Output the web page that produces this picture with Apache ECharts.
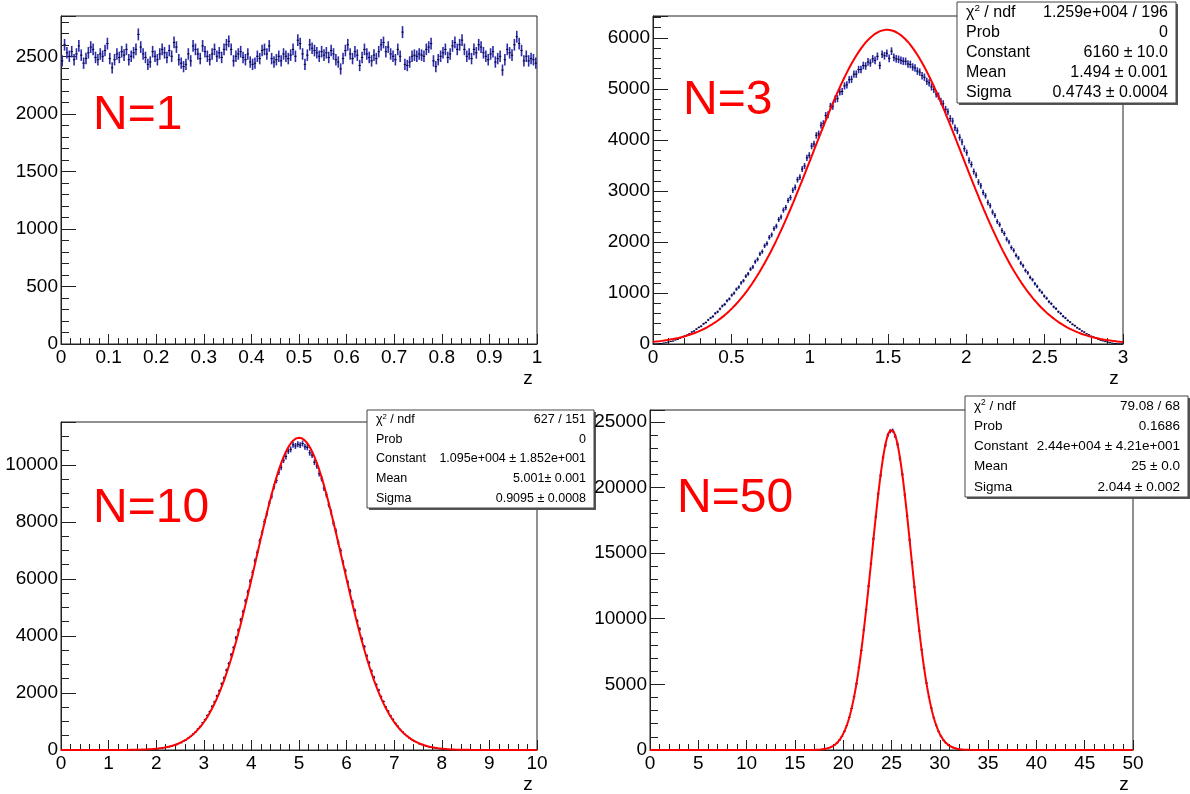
<!DOCTYPE html>
<html>
<head>
<meta charset="utf-8">
<script src="https://cdn.jsdelivr.net/npm/echarts@6/dist/echarts.min.js"></script>
<style>
  html, body { margin: 0; padding: 0; background: #fff; }
  #chart { width: 1190px; height: 794px; }
</style>
</head>
<body>
<div id="chart"></div>
<script>
// Histogram binning: [low edge, high edge, number of bins]
const rangeN1 = [0, 1, 200];
const rangeN3 = [0, 3, 200];
const rangeN10 = [0, 10, 200];
const rangeN50 = [0, 50, 200];

// Index of the first listed bin (bins outside the list are empty)
const firstBinN1 = 0;
const firstBinN3 = 0;
const firstBinN10 = 23;
const firstBinN50 = 64;

// Bin contents, sum of N uniform numbers
const countsN1 = [
  2460, 2600, 2530, 2500, 2540, 2470, 2520, 2590, 2510, 2440,
  2480, 2530, 2580, 2560, 2490, 2470, 2520, 2500, 2550, 2610,
  2480, 2400, 2470, 2520, 2490, 2540, 2510, 2560, 2470, 2500,
  2530, 2560, 2690, 2580, 2520, 2490, 2430, 2450, 2540, 2500,
  2470, 2520, 2560, 2530, 2490, 2550, 2500, 2620, 2580, 2470,
  2440, 2410, 2430, 2520, 2460, 2590, 2560, 2520, 2480, 2590,
  2540, 2500, 2470, 2520, 2560, 2500, 2530, 2490, 2560, 2600,
  2630, 2560, 2460, 2500, 2520, 2540, 2490, 2470, 2520, 2450,
  2430, 2440, 2500, 2480, 2550, 2560, 2520, 2590, 2480, 2450,
  2470, 2500, 2460, 2520, 2500, 2480, 2510, 2560, 2500, 2640,
  2610, 2520, 2430, 2510, 2600, 2570, 2550, 2530, 2500, 2540,
  2510, 2530, 2490, 2550, 2520, 2470, 2450, 2390, 2480, 2550,
  2600, 2520, 2480, 2540, 2510, 2420, 2490, 2560, 2520, 2490,
  2460, 2510, 2480, 2540, 2600, 2620, 2540, 2580, 2520, 2500,
  2470, 2560, 2500, 2710, 2430, 2420, 2450, 2500, 2510, 2500,
  2520, 2510, 2500, 2560, 2580, 2610, 2460, 2410, 2470, 2500,
  2530, 2560, 2490, 2520, 2590, 2620, 2560, 2600, 2640, 2560,
  2500, 2520, 2480, 2560, 2530, 2600, 2580, 2530, 2500, 2470,
  2520, 2540, 2450, 2480, 2500, 2380, 2470, 2560, 2530, 2510,
  2600, 2670, 2610, 2550, 2460, 2500, 2460, 2480, 2470, 2440
];

const countsN3 = [
  0, 2, 6, 9, 18, 24, 37, 49, 58, 79,
  92, 115, 129, 157, 175, 200, 236, 255, 292, 326,
  349, 396, 421, 471, 511, 540, 601, 630, 690, 745,
  776, 846, 884, 958, 996, 1075, 1115, 1198, 1240, 1330,
  1375, 1468, 1510, 1612, 1660, 1765, 1810, 1925, 1970, 2090,
  2140, 2262, 2310, 2440, 2490, 2625, 2675, 2815, 2870, 3015,
  3070, 3220, 3270, 3430, 3490, 3650, 3700, 3880, 3920, 4090,
  4120, 4290, 4320, 4480, 4495, 4660, 4660, 4800, 4810, 4940,
  4950, 5060, 5080, 5180, 5190, 5290, 5290, 5380, 5380, 5460,
  5450, 5530, 5510, 5590, 5560, 5640, 5460, 5680, 5650, 5700,
  5600, 5740, 5620, 5590, 5580, 5560, 5545, 5540, 5490, 5480,
  5430, 5410, 5350, 5330, 5260, 5230, 5150, 5120, 5040, 4990,
  4900, 4860, 4760, 4710, 4600, 4550, 4420, 4370, 4240, 4180,
  4050, 3960, 3830, 3750, 3600, 3520, 3380, 3310, 3175, 3100,
  2970, 2905, 2775, 2710, 2585, 2520, 2400, 2340, 2225, 2165,
  2055, 2000, 1890, 1835, 1735, 1685, 1585, 1535, 1440, 1395,
  1305, 1260, 1180, 1130, 1055, 1010, 940, 897, 830, 790,
  728, 692, 632, 598, 544, 510, 462, 430, 386, 359,
  318, 292, 256, 234, 200, 180, 152, 134, 111, 94,
  75, 62, 47, 36, 26, 17, 10, 5, 2, 1
];

const countsN10 = [
  1, 1, 1, 1, 1, 1, 2, 2, 4, 5,
  7, 9, 13, 15, 21, 25, 33, 39, 50, 59,
  76, 88, 111, 128, 159, 183, 223, 255, 308, 350,
  418, 475, 558, 630, 733, 824, 950, 1062, 1212, 1345,
  1530, 1685, 1895, 2075, 2320, 2525, 2800, 3030, 3340, 3590,
  3930, 4200, 4560, 4850, 5230, 5540, 5920, 6230, 6630, 6930,
  7330, 7620, 8010, 8290, 8650, 8900, 9230, 9450, 9740, 9910,
  10160, 10290, 10480, 10540, 10700, 10660, 10720,
  10690, 10745, 10630, 10610, 10420, 10340, 10090, 9960, 9690, 9510,
  9180, 8950, 8600, 8340, 7950, 7680, 7280, 6990, 6580, 6280,
  5880, 5570, 5190, 4890, 4520, 4240, 3890, 3620, 3300, 3060,
  2770, 2550, 2290, 2100, 1870, 1700, 1505, 1362, 1198, 1075,
  938, 836, 722, 640, 548, 482, 409, 358, 301, 262,
  217, 188, 153, 132, 107, 91, 72, 62, 48, 41,
  31, 26, 19, 16, 12, 9, 7, 5, 4, 3,
  2, 1, 1, 1, 1, 1, 1
];

const countsN50 = [
  1, 2, 4, 7, 13, 19, 33, 49, 81, 117,
  182, 259, 384, 535, 761, 1032, 1420, 1865, 2480, 3170,
  4070, 5050, 6290, 7580, 9140, 10690, 12490, 14200, 16080, 17760,
  19500, 20920, 22290, 23210, 23990, 24280,
  24330, 23920, 23290, 22200, 21000, 19420, 17840, 16000, 14280, 12420,
  10760, 9080, 7640, 6240, 5100, 4040, 3200, 2455, 1890, 1400,
  1048, 750, 545, 376, 268, 176, 122, 77, 52, 31,
  21, 11, 8, 3, 2
];

// Gaussian fit results: [Constant, Mean, Sigma]
const fitN3 = [6160, 1.494, 0.4743];
const fitN10 = [10950, 5.001, 0.9095];
const fitN50 = [24400, 25, 2.044];

// Fit statistics boxes: [label, value]
const statsN3 = [['χ2 / ndf', '1.259e+004 / 196'], ['Prob', '0'], ['Constant', '6160 ± 10.0'], ['Mean', '1.494 ± 0.001'], ['Sigma', '0.4743 ± 0.0004']];
const statsN10 = [['χ2 / ndf', '627 / 151'], ['Prob', '0'], ['Constant', '1.095e+004 ± 1.852e+001'], ['Mean', '5.001± 0.001'], ['Sigma', '0.9095 ± 0.0008']];
const statsN50 = [['χ2 / ndf', '79.08 / 68'], ['Prob', '0.1686'], ['Constant', '2.44e+004 ± 4.21e+001'], ['Mean', '25 ± 0.0'], ['Sigma', '2.044 ± 0.002']];

// Panel titles
const panelTitles = ['N=1', 'N=3', 'N=10', 'N=50'];
const axisTitle = 'z';

const FONT = '"Liberation Sans", Arial, Helvetica, sans-serif';

// Turn bin contents into [center, content, error, half width]
function binPoints(range, counts, first) {
  const lo = range[0], hi = range[1], n = range[2];
  const w = (hi - lo) / n;
  return counts.map((c, k) => {
    const i = first + k;
    return [lo + (i + 0.5) * w, c, Math.sqrt(c), w / 2];
  });
}

// Sample the fitted gaussian across the axis range
function gaussCurve(fit, range, steps) {
  const c = fit[0], m = fit[1], s = fit[2];
  const pts = [];
  for (let j = 0; j <= steps; j++) {
    const x = range[0] + (range[1] - range[0]) * j / steps;
    pts.push([x, c * Math.exp(-0.5 * Math.pow((x - m) / s, 2))]);
  }
  return pts;
}

// Error-bar cross for each bin
function renderBin(params, api) {
  const x = api.value(0), y = api.value(1), e = api.value(2), hw = api.value(3);
  const pl = api.coord([x - hw, y]);
  const pr = api.coord([x + hw, y]);
  const pt = api.coord([x, y + e]);
  const pb = api.coord([x, y - e]);
  return {
    type: 'group',
    children: [
      { type: 'line', shape: { x1: pt[0], y1: pt[1], x2: pb[0], y2: pb[1] },
        style: { stroke: '#2b2ba6', lineWidth: 1.6 } },
      { type: 'line', shape: { x1: pl[0], y1: pl[1], x2: pr[0], y2: pr[1] },
        style: { stroke: '#00002a', lineWidth: 1 } }
    ]
  };
}

const grids = [
  { left: 61, top: 16, width: 476, height: 328 },
  { left: 653, top: 16, width: 470, height: 328 },
  { left: 61, top: 422, width: 476, height: 328 },
  { left: 650, top: 410, width: 483, height: 340 }
].map(g => Object.assign({ show: true, borderColor: '#222', borderWidth: 1, backgroundColor: 'transparent', containLabel: false, outerBoundsMode: 'none' }, g));

function plainNumber(v) { return String(v); }

function xAxis(idx, range, interval) {
  return {
    type: 'value', gridIndex: idx, min: range[0], max: range[1], interval: interval,
    name: axisTitle, nameLocation: 'end', nameGap: -9,
    nameTextStyle: { fontFamily: FONT, fontSize: 19, color: '#000', align: 'center', verticalAlign: 'top', padding: [25, 0, 0, 0] },
    axisLine: { show: true, onZero: false, lineStyle: { color: '#222', width: 1 } },
    axisTick: { show: true, inside: true, length: 10, lineStyle: { color: '#222', width: 1 } },
    minorTick: { show: true, splitNumber: 5, length: 6, lineStyle: { color: '#222', width: 1 } },
    splitLine: { show: false }, minorSplitLine: { show: false },
    axisLabel: { fontFamily: FONT, fontSize: 19, color: '#000', margin: 4, showMinLabel: true, showMaxLabel: true, formatter: plainNumber }
  };
}

function yAxis(idx, max, interval, minorSplit) {
  return {
    type: 'value', gridIndex: idx, min: 0, max: max, interval: interval,
    axisLine: { show: true, onZero: false, lineStyle: { color: '#222', width: 1 } },
    axisTick: { show: true, inside: true, length: 15, lineStyle: { color: '#222', width: 1 } },
    minorTick: { show: true, splitNumber: minorSplit, length: 8, lineStyle: { color: '#222', width: 1 } },
    splitLine: { show: false }, minorSplitLine: { show: false },
    axisLabel: { fontFamily: FONT, fontSize: 19, color: '#000', margin: 3, showMaxLabel: false, formatter: plainNumber }
  };
}

function binSeries(idx, range, counts, first) {
  return {
    type: 'custom', xAxisIndex: idx, yAxisIndex: idx, clip: true, z: 2,
    renderItem: renderBin, data: binPoints(range, counts, first), silent: true
  };
}

function fitSeries(idx, fit, range) {
  return {
    type: 'line', xAxisIndex: idx, yAxisIndex: idx, z: 3, showSymbol: false, silent: true,
    clip: true, smooth: false,
    lineStyle: { color: '#ff0000', width: 2 },
    data: gaussCurve(fit, range, 500)
  };
}

// Fit statistics box: drop shadow, white pane, two text columns
function statsBox(x, y, w, h, rows, fontSize) {
  const children = [
    { type: 'rect', shape: { x: x + 2, y: y + 2, width: w, height: h }, style: { fill: '#555' } },
    { type: 'rect', shape: { x: x, y: y, width: w, height: h }, style: { fill: '#fff', stroke: '#444', lineWidth: 1 } }
  ];
  const rowH = h / rows.length;
  rows.forEach((r, j) => {
    const cy = y + rowH * (j + 0.5);
    const isChi = r[0].indexOf('χ') === 0;
    children.push({
      type: 'text', x: x + 9, y: cy,
      style: isChi ? {
        text: '{t|χ}{s|2}{t| / ndf}', verticalAlign: 'middle', align: 'left',
        rich: {
          t: { fontFamily: FONT, fontSize: fontSize, fill: '#000' },
          s: { fontFamily: FONT, fontSize: fontSize * 0.62, fill: '#000', verticalAlign: 'top', padding: [0, 0, fontSize * 0.45, 0] }
        }
      } : { text: r[0], fontFamily: FONT, fontSize: fontSize, fill: '#000', align: 'left', verticalAlign: 'middle' }
    });
    children.push({
      type: 'text', x: x + w - 8, y: cy,
      style: { text: r[1], fontFamily: FONT, fontSize: fontSize, fill: '#000', align: 'right', verticalAlign: 'middle' }
    });
  });
  return { type: 'group', z: 100, children: children };
}

function titleText(x, y, text) {
  return { type: 'text', x: x, y: y, z: 100,
    style: { text: text, fontFamily: FONT, fontSize: 48, fill: '#ff0000', align: 'left', verticalAlign: 'middle' } };
}

const option = {
  animation: false,
  backgroundColor: '#fff',
  textStyle: { fontFamily: FONT },
  grid: grids,
  xAxis: [
    xAxis(0, rangeN1, 0.1),
    xAxis(1, rangeN3, 0.5),
    xAxis(2, rangeN10, 1),
    xAxis(3, rangeN50, 5)
  ],
  yAxis: [
    yAxis(0, 2850, 500, 5),
    yAxis(1, 6430, 1000, 5),
    yAxis(2, 11500, 2000, 4),
    yAxis(3, 25900, 5000, 5)
  ],
  series: [
    binSeries(0, rangeN1, countsN1, firstBinN1),
    binSeries(1, rangeN3, countsN3, firstBinN3),
    fitSeries(1, fitN3, rangeN3),
    binSeries(2, rangeN10, countsN10, firstBinN10),
    fitSeries(2, fitN10, rangeN10),
    binSeries(3, rangeN50, countsN50, firstBinN50),
    fitSeries(3, fitN50, rangeN50)
  ],
  graphic: [
    titleText(93, 116, panelTitles[0]),
    titleText(683, 101, panelTitles[1]),
    titleText(93, 509, panelTitles[2]),
    titleText(677, 499, panelTitles[3]),
    statsBox(957, 2, 219, 101, statsN3, 16),
    statsBox(367, 410, 227, 98, statsN10, 12.5),
    statsBox(965, 396, 223, 101, statsN50, 13.5)
  ]
};

const chart = echarts.init(document.getElementById('chart'), null, { renderer: 'canvas' });
chart.setOption(option);
</script>
</body>
</html>
